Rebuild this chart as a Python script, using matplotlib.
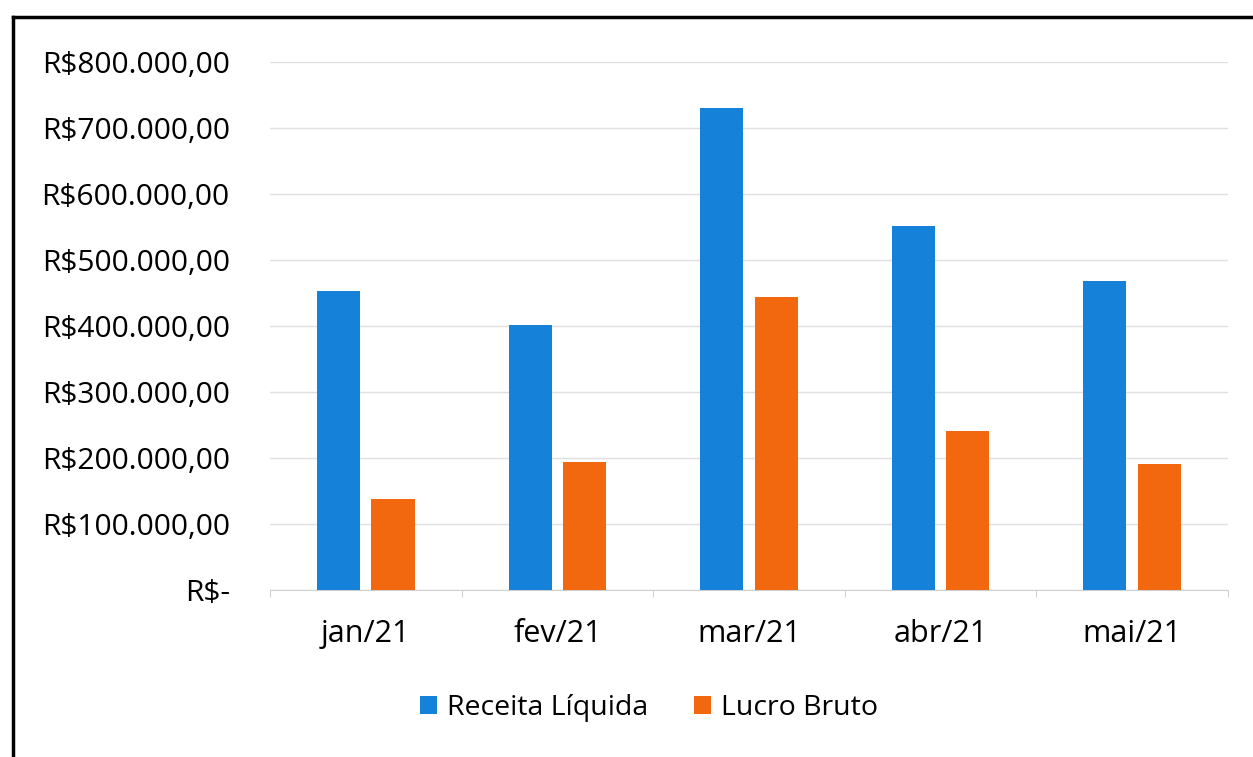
import matplotlib.pyplot as plt
import numpy as np
from matplotlib.lines import Line2D

plt.rcParams['font.family'] = ['Open Sans', 'DejaVu Sans']

months = ['jan/21', 'fev/21', 'mar/21', 'abr/21', 'mai/21']
receita = [453000, 402000, 730000, 552000, 468000]
lucro = [138000, 194000, 444000, 241000, 191000]
yticks = [0, 100000, 200000, 300000, 400000, 500000, 600000, 700000, 800000]
ytick_labels = ['R$-', 'R$100.000,00', 'R$200.000,00', 'R$300.000,00', 'R$400.000,00',
                'R$500.000,00', 'R$600.000,00', 'R$700.000,00', 'R$800.000,00']

BLUE = '#1681D9'
ORANGE = '#F2680F'

fig = plt.figure(figsize=(12.53, 7.57), dpi=100)
fig.patch.set_facecolor('white')
ax = fig.add_axes([0.2155, 0.2206, 0.7645, 0.6974])

x = np.arange(len(months))
w = 0.225
ax.bar(x - 0.142, receita, width=w, color=BLUE, label='Receita Líquida', zorder=3)
ax.bar(x + 0.142, lucro, width=w, color=ORANGE, label='Lucro Bruto', zorder=3)

ax.set_xlim(-0.5, len(months) - 0.5)
ax.set_ylim(0, 800000)
ax.set_yticks(yticks)
ax.set_yticklabels(ytick_labels, fontsize=21.5)
ax.set_xticks(x)
ax.set_xticklabels(months, fontsize=22)
ax.set_xticks(np.arange(-0.5, len(months)), minor=True)
ax.tick_params(axis='y', length=0, pad=29, colors='black')
ax.tick_params(axis='x', which='major', length=0, pad=21, colors='black')
ax.tick_params(axis='x', which='minor', length=5, color='#c8c8c8')

ax.grid(axis='y', color='#e0e0e0', linewidth=1, zorder=0)
for s in ['top', 'right', 'left']:
    ax.spines[s].set_visible(False)
ax.spines['bottom'].set_color('#d0d0d0')

fig.legend(loc='center', bbox_to_anchor=(0.518, 0.065), ncol=2, frameon=False,
           fontsize=20.5, handlelength=0.6, handleheight=0.6, handletextpad=0.35,
           columnspacing=1.6)

# frame of the scanned chart (top and left edges)
fig.add_artist(Line2D([13 / 1253, 1.0], [1 - 17 / 757, 1 - 17 / 757],
                      transform=fig.transFigure, color='black', linewidth=2.5))
fig.add_artist(Line2D([13 / 1253, 13 / 1253], [0, 1 - 17 / 757],
                      transform=fig.transFigure, color='black', linewidth=2.5))

fig.savefig('out.png', dpi=100, facecolor='white')
